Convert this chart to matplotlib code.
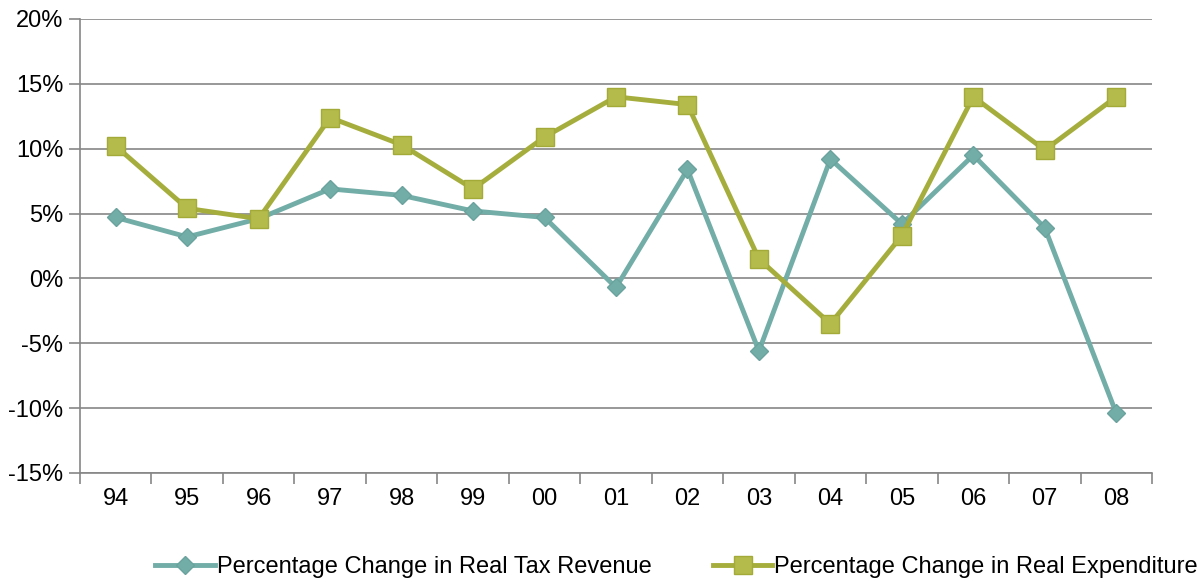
import matplotlib.pyplot as plt
from matplotlib.ticker import FuncFormatter, FixedLocator

plt.rcParams['font.family'] = ['Liberation Sans', 'DejaVu Sans']

years = ["94", "95", "96", "97", "98", "99", "00", "01", "02", "03", "04", "05", "06", "07", "08"]
tax_revenue = [4.7, 3.2, 4.6, 6.9, 6.4, 5.2, 4.7, -0.7, 8.4, -5.6, 9.2, 4.2, 9.5, 3.9, -10.4]
expenditure = [10.2, 5.4, 4.6, 12.4, 10.3, 6.9, 10.9, 14.0, 13.4, 1.5, -3.5, 3.3, 14.0, 9.9, 14.0]

fig = plt.figure(figsize=(12.01, 5.82), dpi=100)
ax = fig.add_axes([0.0666, 0.1873, 0.8926, 0.7801])

x = range(len(years))
ax.plot(x, tax_revenue, color="#72ADA8", lw=3.5, marker="D", markersize=9,
        markerfacecolor="#72ADA8", markeredgecolor="#6AA39E",
        label="Percentage Change in Real Tax Revenue", zorder=3)
ax.plot(x, expenditure, color="#A5AE3C", lw=3.5, marker="s", markersize=13,
        markerfacecolor="#B5BB4B", markeredgecolor="#A3AA38",
        label="Percentage Change in Real Expenditure", zorder=4)

ax.set_xlim(-0.5, len(years) - 0.5)
ax.set_ylim(-15, 20)
ax.set_yticks(range(-15, 21, 5))
ax.yaxis.set_major_formatter(FuncFormatter(lambda v, p: f"{int(v)}%"))
ax.grid(axis="y", color="#868686", lw=1.2)
ax.set_axisbelow(True)

ax.set_xticks(list(x))
ax.set_xticklabels(years)
ax.xaxis.set_minor_locator(FixedLocator([i - 0.5 for i in range(len(years) + 1)]))
ax.tick_params(axis="x", which="major", length=0, pad=11, labelsize=17)
ax.tick_params(axis="x", which="minor", length=8, color="#868686", width=1.2)
ax.tick_params(axis="y", length=8, color="#868686", width=1.2, labelsize=17, pad=4)

for side in ["top", "right"]:
    ax.spines[side].set_visible(False)
for side in ["left", "bottom"]:
    ax.spines[side].set_color("#868686")
    ax.spines[side].set_linewidth(1.2)

fig.legend(loc="center", bbox_to_anchor=(0.5635, 0.026), ncol=2, frameon=False,
           fontsize=17, handlelength=2.5, handletextpad=0.1, columnspacing=2.6,
           borderaxespad=0, borderpad=0)

fig.savefig("out.png", dpi=100)
